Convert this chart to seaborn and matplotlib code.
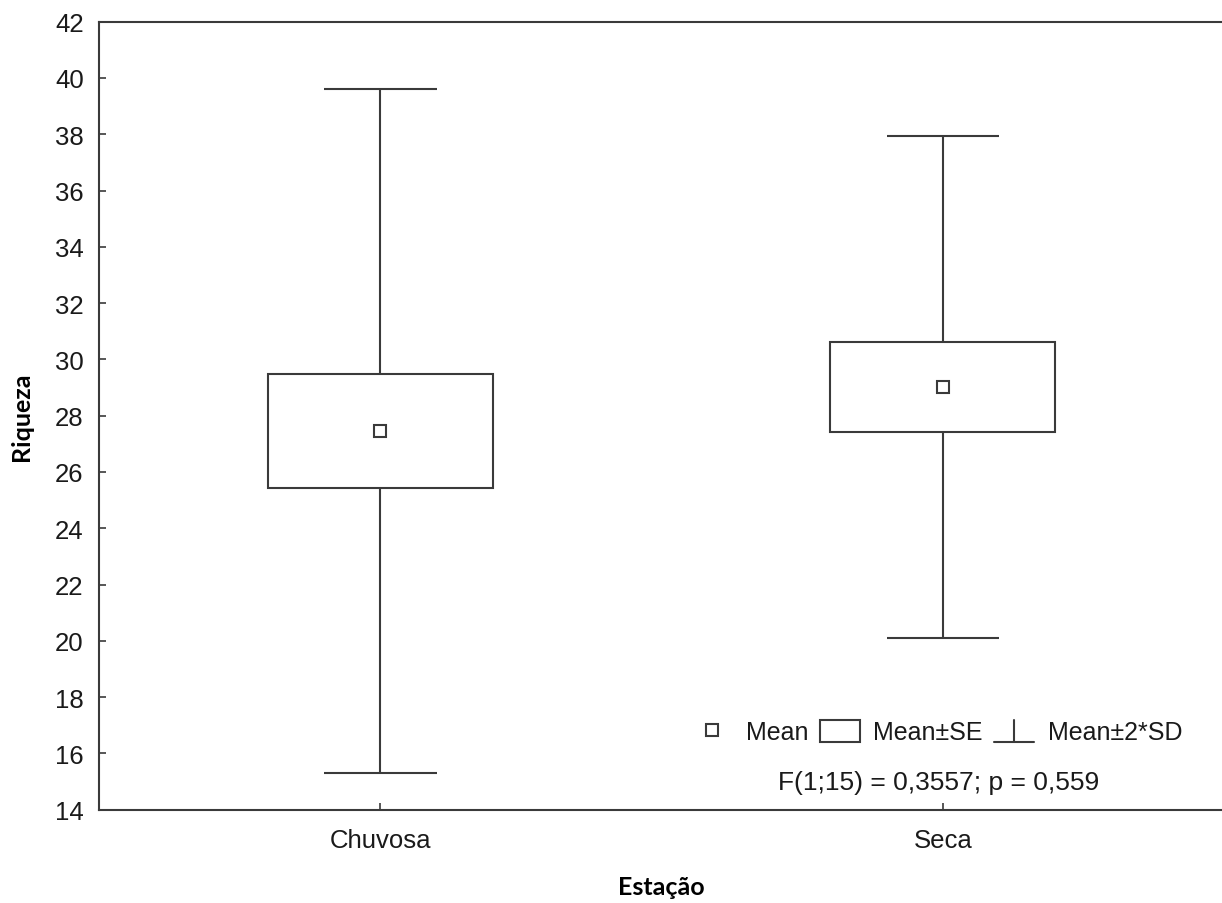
import numpy as np
import pandas as pd
import matplotlib
matplotlib.use('Agg')
import matplotlib.pyplot as plt
from matplotlib.lines import Line2D
from matplotlib.patches import Patch
from matplotlib.legend_handler import HandlerBase
import seaborn as sns

# Valores (Riqueza por estação)
estacao = ['Chuvosa', 'Seca']
media = [27.47, 29.02]
se_baixo = [25.42, 27.43]
se_alto = [29.49, 30.61]
sd2_baixo = [15.29, 20.09]
sd2_alto = [39.61, 37.93]
yticks = list(range(14, 43, 2))
texto_anova = 'F(1;15) = 0,3557; p = 0,559'

df = pd.DataFrame({'Estação': estacao, 'Riqueza': media})

cor = '#3a3a3a'
lw = 1.5

sns.set_style('white')
plt.rcParams['font.family'] = ['Liberation Sans', 'DejaVu Sans']
plt.rcParams['text.color'] = '#1a1a1a'

fig = plt.figure(figsize=(12.22, 9.04), dpi=100)
ax = fig.add_axes([99 / 1222, 1 - 810.7 / 904, 1125 / 1222, 788 / 904])

# médias
sns.pointplot(data=df, x='Estação', y='Riqueza', linestyle='none', marker='s',
              markersize=8.5, markerfacecolor='white', markeredgecolor=cor,
              markeredgewidth=lw, color=cor, errorbar=None, zorder=4, ax=ax)

pos = np.arange(len(estacao))
# média ± 2*DP
ax.vlines(pos, sd2_baixo, sd2_alto, colors=cor, lw=lw, zorder=1)
ax.hlines(sd2_baixo, pos - 0.1, pos + 0.1, colors=cor, lw=lw, zorder=1)
ax.hlines(sd2_alto, pos - 0.1, pos + 0.1, colors=cor, lw=lw, zorder=1)
# média ± EP
ax.bar(pos, np.array(se_alto) - np.array(se_baixo), bottom=se_baixo, width=0.4,
       facecolor='white', edgecolor=cor, linewidth=lw, zorder=2)

ax.set_xlim(-0.5, 1.5)
ax.set_ylim(14, 42)
ax.set_yticks(yticks)

for s in ['left', 'bottom', 'top']:
    ax.spines[s].set_color(cor)
    ax.spines[s].set_linewidth(lw)
ax.spines['right'].set_visible(False)

ax.tick_params(axis='y', direction='in', length=5, width=1.2, color=cor,
               labelsize=18.5, pad=11, left=True, labelcolor='#1a1a1a')
ax.tick_params(axis='x', direction='in', length=5, width=1.2, color=cor,
               labelsize=18.5, pad=13, bottom=True, labelcolor='#1a1a1a')

ax.set_xlabel('Estação', fontsize=18, fontweight='bold', family='Lato', color='black')
ax.set_ylabel('Riqueza', fontsize=18, fontweight='bold', family='Lato', color='black')
ax.xaxis.set_label_coords(0.5, -0.083)
ax.yaxis.set_label_coords(-0.059, 0.5)


class HandlerBigode(HandlerBase):
    def create_artists(self, legend, orig_handle, xdescent, ydescent,
                       width, height, fontsize, trans):
        x0, y0 = -xdescent, -ydescent
        base = Line2D([x0, x0 + width], [y0, y0], color=cor, lw=lw, transform=trans)
        haste = Line2D([x0 + width / 2] * 2, [y0, y0 + height], color=cor, lw=lw,
                       transform=trans)
        return [base, haste]


h_media = Line2D([], [], marker='s', linestyle='none', markersize=8,
                 markerfacecolor='white', markeredgecolor=cor, markeredgewidth=lw)
h_se = Patch(facecolor='white', edgecolor=cor, linewidth=lw)
h_sd = Line2D([], [])

ax.legend([h_media, h_se, h_sd], ['Mean', 'Mean±SE', 'Mean±2*SD'],
          handler_map={h_sd: HandlerBigode()}, ncol=3, frameon=False,
          loc='center', bbox_to_anchor=(0.745, 0.0986), fontsize=18,
          handlelength=1.6, handleheight=1.0, handletextpad=0.55,
          columnspacing=0.45, borderaxespad=0)

ax.text(0.746, 0.035, texto_anova, transform=ax.transAxes, ha='center',
        va='center', fontsize=19)

plt.savefig('out.png', dpi=100)
